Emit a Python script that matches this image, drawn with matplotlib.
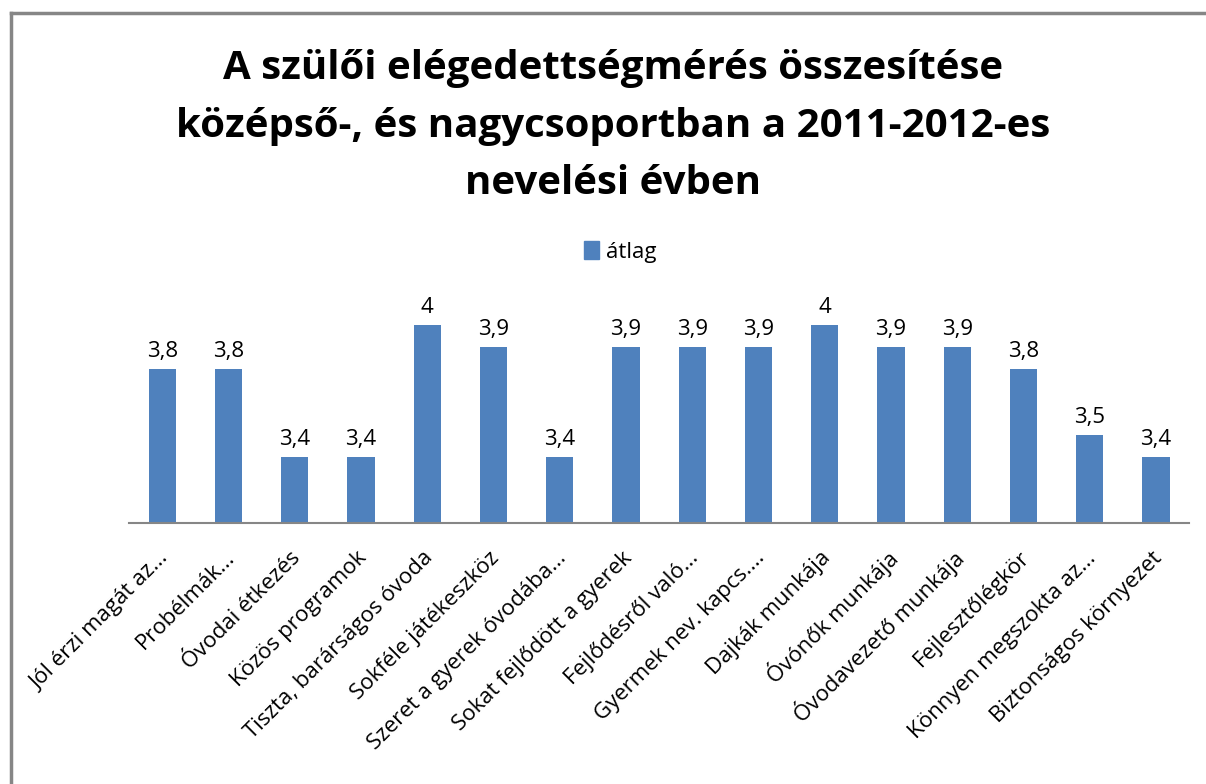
import matplotlib
matplotlib.use("Agg")
import matplotlib.pyplot as plt
import matplotlib.transforms as mtransforms
from matplotlib.lines import Line2D
from matplotlib.patches import Patch

plt.rcParams['font.family'] = ['Open Sans', 'DejaVu Sans']

# Adatok
kategoriak = [
    "Jól érzi magát az...", "Probélmák...", "Óvodai étkezés", "Közös programok",
    "Tiszta, barárságos óvoda", "Sokféle játékeszköz", "Szeret a gyerek óvodába...",
    "Sokat fejlődött a gyerek", "Fejlődésről való...", "Gyermek nev. kapcs....",
    "Dajkák munkája", "Óvónők munkája", "Óvodavezető munkája", "Fejlesztőlégkör",
    "Könnyen megszokta az...", "Biztonságos környezet",
]
atlag = [3.8, 3.8, 3.4, 3.4, 4, 3.9, 3.4, 3.9, 3.9, 3.9, 4, 3.9, 3.9, 3.8, 3.5, 3.4]
cimkek = ["3,8", "3,8", "3,4", "3,4", "4", "3,9", "3,4", "3,9", "3,9", "3,9",
          "4", "3,9", "3,9", "3,8", "3,5", "3,4"]
cim = ["A szülői elégedettségmérés összesítése",
       "középső-, és nagycsoportban a 2011-2012-es",
       "nevelési évben"]

szin = "#4F81BD"

fig = plt.figure(figsize=(12.06, 7.84), dpi=100)
ax = fig.add_axes([0.107, 0.333, 0.879, 0.309])

x = range(len(kategoriak))
also = 3.1
ax.bar(x, [v - also for v in atlag], bottom=also, width=0.41, color=szin, label="átlag")
for i, v in enumerate(atlag):
    ax.text(i, v + 0.03, cimkek[i], ha="center", va="bottom", fontsize=16)

ax.set_xlim(-0.5, len(kategoriak) - 0.5)
ax.set_ylim(also, 4.2)
ax.set_yticks([])
ax.set_xticks(list(x))
ax.set_xticklabels(kategoriak, rotation=45, ha="right", va="center",
                   rotation_mode="anchor", fontsize=16)
ax.tick_params(axis="x", length=0, pad=23)
eltolas = mtransforms.ScaledTranslation(3 / 100, 0, fig.dpi_scale_trans)
for t in ax.get_xticklabels():
    t.set_transform(t.get_transform() + eltolas)
for s in ["top", "right", "left"]:
    ax.spines[s].set_visible(False)
ax.spines["bottom"].set_color("#868686")
ax.spines["bottom"].set_linewidth(1.5)

# Cím
for sor, y in zip(cim, [0.899, 0.825, 0.752]):
    fig.text(0.508, y, sor, ha="center", va="baseline", fontsize=29, fontweight="bold")

# Jelmagyarázat
fig.legend(handles=[Patch(color=szin, label="átlag")], loc="center", bbox_to_anchor=(0.514, 0.679),
           frameon=False, fontsize=16, handlelength=0.7, handleheight=0.9, handletextpad=0.3)

# Keret
fig.add_artist(Line2D([0.009, 1.0], [0.983, 0.983], color="#868686", lw=2.5))
fig.add_artist(Line2D([0.009, 0.009], [0.0, 0.983], color="#868686", lw=2.5))

fig.savefig("out.png", dpi=100)
